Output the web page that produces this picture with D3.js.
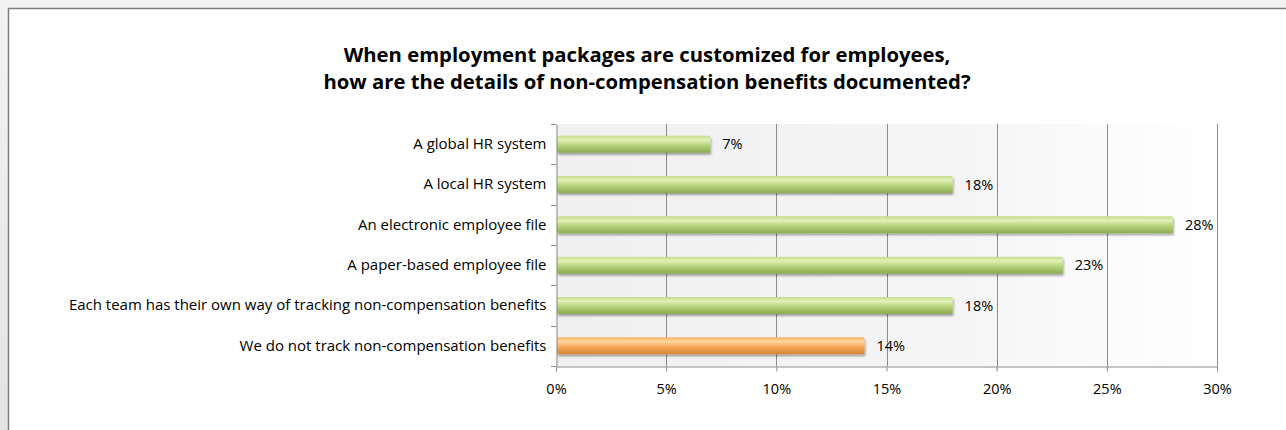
<!DOCTYPE html>
<html>
<head>
<meta charset="utf-8">
<script src="https://cdn.jsdelivr.net/npm/d3@7"></script>
<style>
  body { margin: 0; background: #ececec; overflow: hidden; }
  svg { display: block; font-family: "Open Sans", "Liberation Sans", sans-serif; }
</style>
</head>
<body>
<script>
// chart data
var categories = [
  "A global HR system",
  "A local HR system",
  "An electronic employee file",
  "A paper-based employee file",
  "Each team has their own way of tracking non-compensation benefits",
  "We do not track non-compensation benefits"
];
var values = [7, 18, 28, 23, 18, 14];
var highlight = [false, false, false, false, false, true];
var xTicks = [0, 5, 10, 15, 20, 25, 30];
var titleLines = [
  "When employment packages are customized for employees,",
  "how are the details of non-compensation benefits documented?"
];

var width = 1286, height = 430;
var svg = d3.select("body").append("svg")
    .attr("width", width)
    .attr("height", height);

var defs = svg.append("defs");

// outer frame shading
var frameGrad = defs.append("linearGradient").attr("id", "frameGrad")
    .attr("x1", "0%").attr("x2", "0%").attr("y1", "0%").attr("y2", "100%");
frameGrad.append("stop").attr("offset", "0%").attr("stop-color", "#f2f2f2");
frameGrad.append("stop").attr("offset", "100%").attr("stop-color", "#e4e4e4");

// plot background fades left to right
var plotGrad = defs.append("linearGradient").attr("id", "plotGrad")
    .attr("x1", "0%").attr("x2", "100%").attr("y1", "0%").attr("y2", "0%");
plotGrad.append("stop").attr("offset", "0%").attr("stop-color", "#f0f0f0");
plotGrad.append("stop").attr("offset", "60%").attr("stop-color", "#f5f5f5");
plotGrad.append("stop").attr("offset", "100%").attr("stop-color", "#ffffff");

// bar gradients (vertical, glossy)
function barGradient(id, stops) {
  var g = defs.append("linearGradient").attr("id", id)
      .attr("x1", "0%").attr("x2", "0%").attr("y1", "0%").attr("y2", "100%");
  stops.forEach(function(s) {
    g.append("stop").attr("offset", s[0]).attr("stop-color", s[1]);
  });
}
barGradient("greenGrad", [["0%", "#c6dc8e"], ["25%", "#e3f0b8"], ["55%", "#b9d47c"], ["100%", "#8eab52"]]);
barGradient("orangeGrad", [["0%", "#f6b36a"], ["25%", "#fdd89e"], ["55%", "#f5a95a"], ["100%", "#d5853a"]]);

var shadow = defs.append("filter").attr("id", "shadow")
    .attr("x", "-5%").attr("y", "-30%").attr("width", "110%").attr("height", "180%");
shadow.append("feDropShadow").attr("dx", 1).attr("dy", 2).attr("stdDeviation", 1.2)
    .attr("flood-color", "#000").attr("flood-opacity", 0.35);

// frame
svg.append("rect").attr("x", 0).attr("y", 0).attr("width", width).attr("height", height)
    .attr("fill", "url(#frameGrad)");
svg.append("rect").attr("x", 8.5).attr("y", 8.5).attr("width", width + 20).attr("height", height + 20)
    .attr("fill", "#fff").attr("stroke", "#7f7f7f").attr("stroke-width", 1.5);

// title
svg.append("g").selectAll("text")
  .data(titleLines)
  .enter().append("text")
    .attr("x", 647)
    .attr("y", function(d, i) { return 62 + i * 27; })
    .attr("text-anchor", "middle")
    .attr("font-size", "20.3px")
    .attr("font-weight", "bold")
    .attr("fill", "#000")
    .text(function(d) { return d; });

var plotLeft = 556, plotRight = 1217, plotTop = 124, plotBottom = 366;

var x = d3.scaleLinear().domain([0, 30]).range([plotLeft, plotRight]);
var y = d3.scaleBand().domain(categories).range([plotTop, plotBottom]).paddingInner(0.58).paddingOuter(0.29);
var band = d3.scaleBand().domain(categories).range([plotTop, plotBottom]);

// plot area
svg.append("rect").attr("x", plotLeft).attr("y", plotTop)
    .attr("width", plotRight - plotLeft).attr("height", plotBottom - plotTop)
    .attr("fill", "url(#plotGrad)");

// vertical gridlines
svg.append("g").selectAll("line")
  .data(xTicks.slice(1))
  .enter().append("line")
    .attr("x1", function(d) { return Math.round(x(d)) + 0.5; })
    .attr("x2", function(d) { return Math.round(x(d)) + 0.5; })
    .attr("y1", plotTop).attr("y2", plotBottom)
    .attr("stroke", "#8c8c8c").attr("stroke-width", 1);

// bars
svg.append("g").selectAll("rect")
  .data(values)
  .enter().append("rect")
    .attr("x", x(0) + 1)
    .attr("y", function(d, i) { return y(categories[i]); })
    .attr("width", function(d) { return x(d) - x(0) - 1; })
    .attr("height", y.bandwidth())
    .attr("rx", 1.5)
    .attr("fill", function(d, i) { return highlight[i] ? "url(#orangeGrad)" : "url(#greenGrad)"; })
    .attr("filter", "url(#shadow)");

// value labels
svg.append("g").selectAll("text")
  .data(values)
  .enter().append("text")
    .attr("x", function(d) { return x(d) + 12; })
    .attr("y", function(d, i) { return y(categories[i]) + y.bandwidth() / 2; })
    .attr("dy", "0.35em")
    .attr("font-size", "14.5px")
    .attr("fill", "#000")
    .text(function(d) { return d + "%"; });

// y axis
var yAxis = svg.append("g")
    .attr("transform", "translate(" + (plotLeft + 0.5) + ",0)")
    .call(d3.axisLeft(band).tickSize(0).tickPadding(10));
yAxis.select(".domain").attr("stroke", "#8c8c8c");
yAxis.selectAll("text").attr("font-size", "15px").attr("fill", "#000")
    .attr("font-family", "'Open Sans', 'Liberation Sans', sans-serif");
// tick marks between categories
svg.append("g").selectAll("line")
  .data(d3.range(categories.length + 1))
  .enter().append("line")
    .attr("x1", plotLeft - 5).attr("x2", plotLeft)
    .attr("y1", function(i) { return Math.round(plotTop + i * band.step()) + 0.5; })
    .attr("y2", function(i) { return Math.round(plotTop + i * band.step()) + 0.5; })
    .attr("stroke", "#8c8c8c");

// x axis
var xAxis = svg.append("g")
    .attr("transform", "translate(0," + (plotBottom + 0.5) + ")")
    .call(d3.axisBottom(x).tickValues(xTicks).tickSize(5).tickPadding(12)
      .tickFormat(function(d) { return d + "%"; }));
xAxis.select(".domain").attr("stroke", "#8c8c8c");
xAxis.selectAll(".tick line").attr("stroke", "#8c8c8c");
xAxis.selectAll("text").attr("font-size", "14.5px").attr("fill", "#000")
    .attr("font-family", "'Open Sans', 'Liberation Sans', sans-serif");
</script>
</body>
</html>
